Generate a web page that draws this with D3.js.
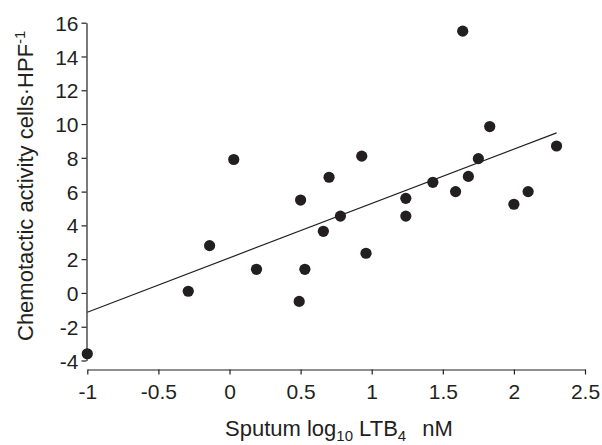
<!DOCTYPE html>
<html>
<head>
<meta charset="utf-8">
<script src="https://cdn.jsdelivr.net/npm/d3@7"></script>
<style>
  html, body { margin: 0; padding: 0; background: #fff; }
  #chart text { font-family: 'Liberation Sans', Arial, sans-serif; fill: #231f20; }
</style>
</head>
<body>
<div id="chart"></div>
<script>
// values
const sputumLogLTB4 = [-1, -0.29, -0.14, 0.03, 0.19, 0.49, 0.5, 0.53, 0.66, 0.7, 0.78, 0.93, 0.96,
  1.24, 1.24, 1.43, 1.59, 1.64, 1.68, 1.75, 1.83, 2.0, 2.1, 2.3]
const chemotacticActivity = [-3.6, 0.1, 2.8, 7.9, 1.4, -0.5, 5.5, 1.4, 3.65, 6.85, 4.55, 8.1, 2.35,
  5.6, 4.55, 6.55, 6.0, 15.5, 6.9, 7.95, 9.85, 5.25, 6.0, 8.7]
const fitLineX = [-1, 2.3]
const fitLineY = [-1.14, 9.48]

const xTickValues = [-1, -0.5, 0, 0.5, 1, 1.5, 2, 2.5]
const xTickLabels = ['-1', '-0.5', '0', '0.5', '1', '1.5', '2', '2.5']
const yTickValues = [-4, -2, 0, 2, 4, 6, 8, 10, 12, 14, 16]
const yTickLabels = ['-4', '-2', '0', '2', '4', '6', '8', '10', '12', '14', '16']

const SIZE = Object.freeze({ WIDTH: 602, HEIGHT: 445 })
const INK = '#231f20'

const svg = d3.select('#chart')
  .append('svg')
  .attr('width', SIZE.WIDTH)
  .attr('height', SIZE.HEIGHT)

const xScale = d3.scaleLinear().domain([-1, 2.5]).range([87.3, 585])
const yScale = d3.scaleLinear().domain([-4, 16]).range([360.5, 22.7])

const yAxis = d3.axisLeft(yScale)
  .tickValues(yTickValues)
  .tickFormat((d, i) => yTickLabels[i])
  .tickSize(5)
  .tickSizeOuter(0)
  .tickPadding(3)

const xAxis = d3.axisBottom(xScale)
  .tickValues(xTickValues)
  .tickFormat((d, i) => xTickLabels[i])
  .tickSize(5)
  .tickSizeOuter(0)
  .tickPadding(10)

const gy = svg.append('g')
  .attr('transform', 'translate(86.5, 0)')
  .call(yAxis)
gy.selectAll('text').style('font-size', '21px').attr('dy', '0.36em')

const gx = svg.append('g')
  .attr('transform', 'translate(0, 369.5)')
  .call(xAxis)
gx.selectAll('text').style('font-size', '21px')

svg.selectAll('.domain, .tick line')
  .attr('stroke', INK)
  .attr('stroke-width', 1.2)

// regression line
svg.append('line')
  .attr('x1', xScale(fitLineX[0]))
  .attr('y1', yScale(fitLineY[0]))
  .attr('x2', xScale(fitLineX[1]))
  .attr('y2', yScale(fitLineY[1]))
  .attr('stroke', INK)
  .attr('stroke-width', 1.2)

svg.selectAll('circle')
  .data(sputumLogLTB4.map((x, i) => [x, chemotacticActivity[i]]))
  .enter()
  .append('circle')
  .attr('cx', d => xScale(d[0]))
  .attr('cy', d => yScale(d[1]))
  .attr('r', 5.6)
  .attr('fill', INK)

// axis titles
const xTitle = svg.append('text')
  .attr('x', 225)
  .attr('y', 436)
  .style('font-size', '22px')
xTitle.append('tspan').text('Sputum log')
xTitle.append('tspan').attr('dy', 5).style('font-size', '15px').text('10')
xTitle.append('tspan').attr('dy', -5).text(' LTB')
xTitle.append('tspan').attr('dy', 5).style('font-size', '15px').text('4')
xTitle.append('tspan').attr('dy', -5).attr('dx', 16).text('nM')

const yTitle = svg.append('text')
  .attr('transform', 'translate(33, 341) rotate(-90)')
  .style('font-size', '22px')
yTitle.append('tspan').text('Chemotactic activity cells\u00b7HPF')
yTitle.append('tspan').attr('dy', -8).style('font-size', '15px').text('-1')
</script>
</body>
</html>
